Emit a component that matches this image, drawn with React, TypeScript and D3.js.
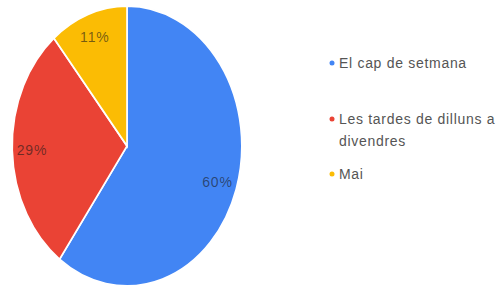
import React from "react";
import * as d3 from "d3";

const categories = ["El cap de setmana", "Les tardes de dilluns a divendres", "Mai"];
const values = [60, 29, 11];
const colors = ["#4285F4", "#EA4335", "#FBBC04"];
const legendLines = [["El cap de setmana"], ["Les tardes de dilluns a", "divendres"], ["Mai"]];

export default function App() {
  const cx = 127, cy = 146, R = 140, sx = 0.82;
  const pie = d3.pie<number>().sort(null).value((d) => d);
  const arcs = pie(values);
  const arc = d3.arc<d3.PieArcDatum<number>>().innerRadius(0).outerRadius(R);
  const labelArc = d3.arc<d3.PieArcDatum<number>>().innerRadius(102).outerRadius(130);
  const total = d3.sum(values);
  const legendY = [63, 119, 174];
  return (
    <svg width={504} height={291} style={{ position: "absolute", left: 0, top: 0, background: "#fff" }}
      fontFamily="Liberation Sans, Arial, sans-serif">
      <g transform={`translate(${cx},${cy}) scale(${sx},1)`}>
        {arcs.map((a, i) => (
          <path key={i} d={arc(a) || ""} fill={colors[i]} stroke="#fff" strokeWidth={2} />
        ))}
      </g>
      {arcs.map((a, i) => {
        const [x, y] = labelArc.centroid(a);
        return (
          <text key={i} x={cx + x * sx} y={cy + y} textAnchor="middle" dominantBaseline="central"
            fontSize={14} letterSpacing={0.8} fill="#1a1a1a" fillOpacity={0.6}>
            {Math.round((values[i] / total) * 100)}%
          </text>
        );
      })}
      {categories.map((c, i) => (
        <g key={c}>
          <circle cx={332} cy={legendY[i]} r={2.5} fill={colors[i]} />
          {legendLines[i].map((line, j) => (
            <text key={j} x={339} y={legendY[i] + j * 22} dominantBaseline="central" fontSize={14}
              letterSpacing={0.7} fill="#555">
              {line}
            </text>
          ))}
        </g>
      ))}
    </svg>
  );
}
